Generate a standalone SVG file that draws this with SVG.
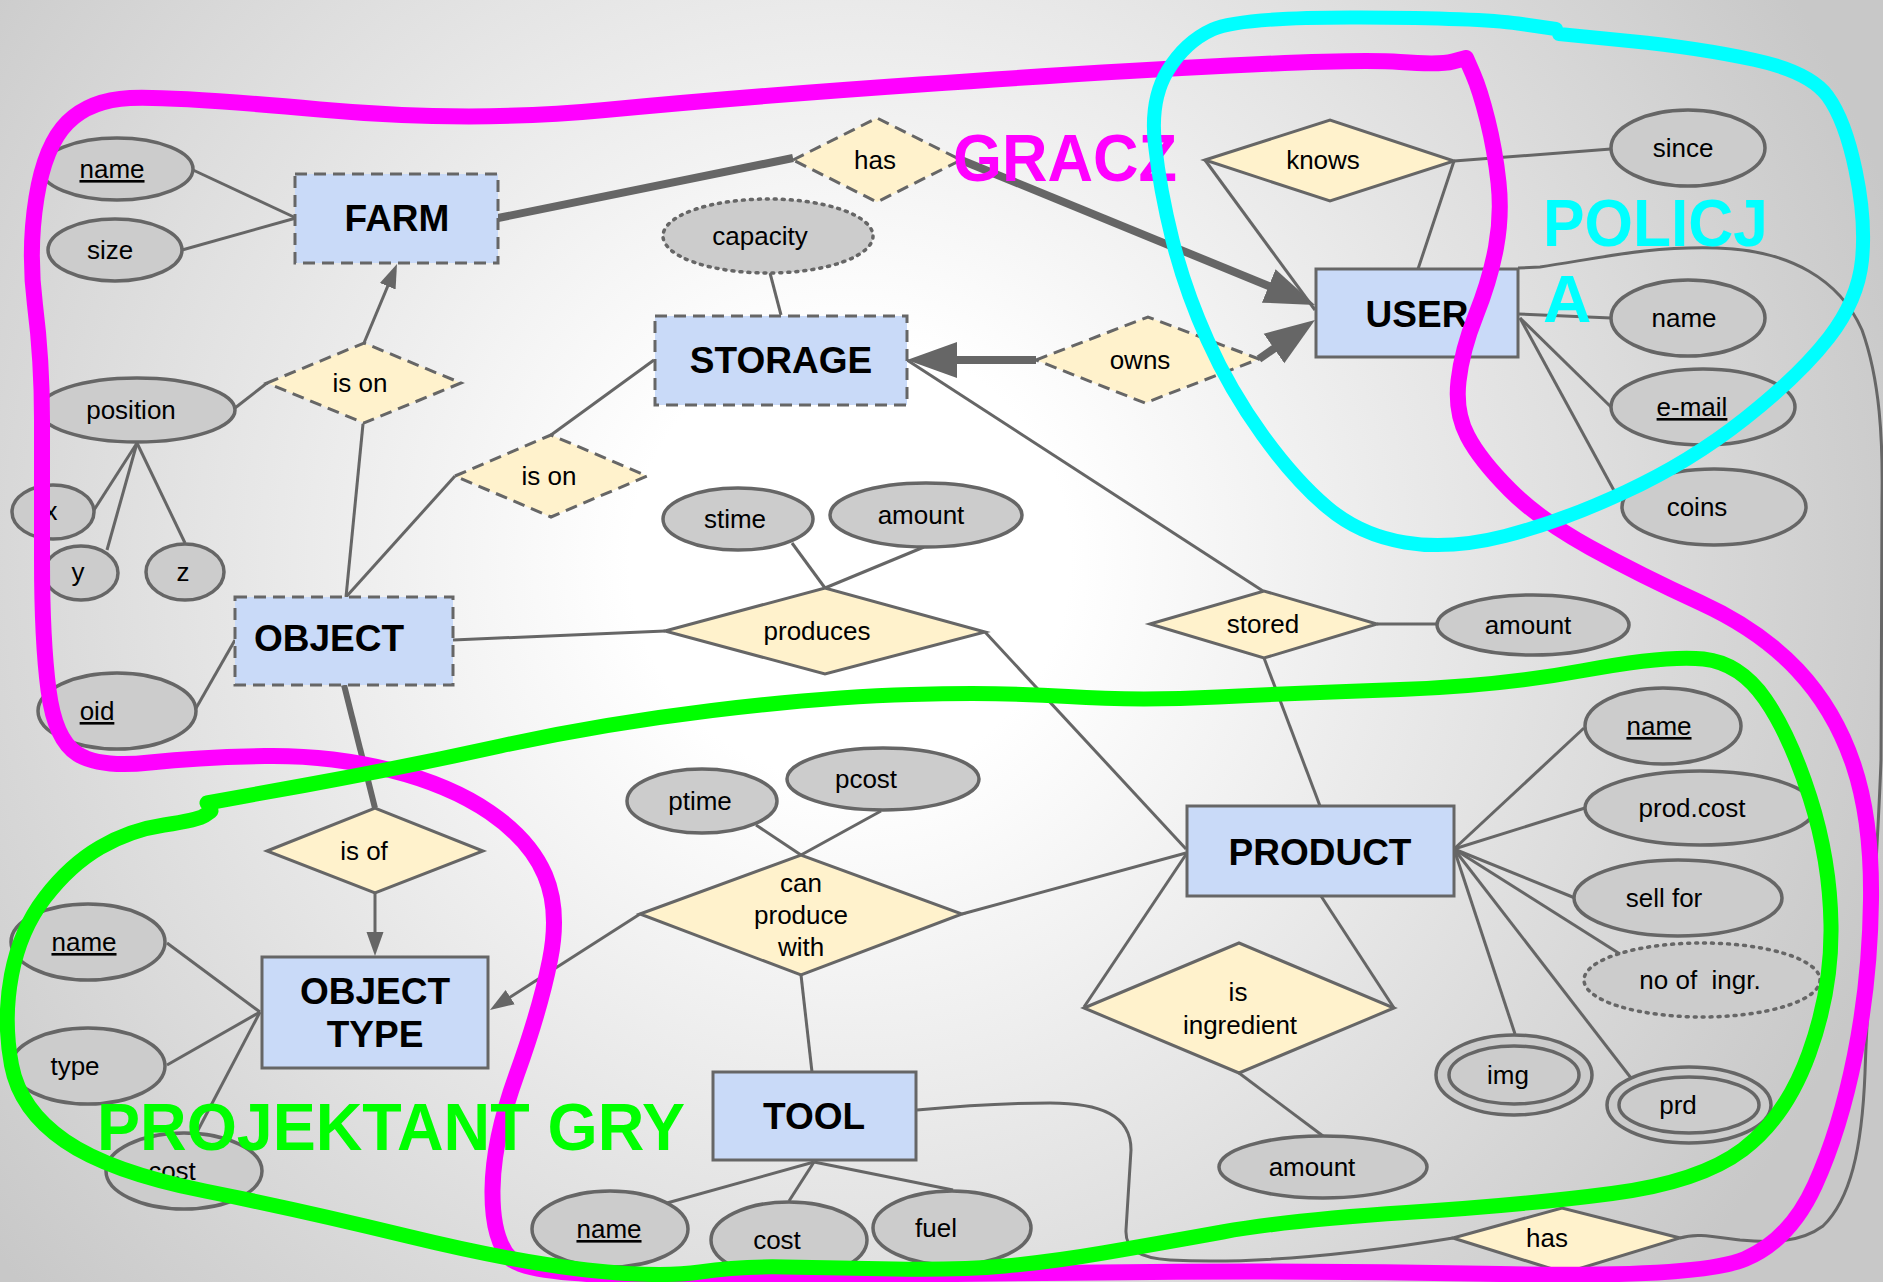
<svg xmlns="http://www.w3.org/2000/svg" width="1883" height="1282" viewBox="0 0 1883 1282">
  <defs>
    <radialGradient id="bg" gradientUnits="userSpaceOnUse" cx="850" cy="560" r="1100">
      <stop offset="0" stop-color="#ffffff"/>
      <stop offset="0.2" stop-color="#ffffff"/>
      <stop offset="1" stop-color="#c8c8c8"/>
    </radialGradient>
    <marker id="bigArrow" markerUnits="userSpaceOnUse" viewBox="0 0 52 40" markerWidth="52" markerHeight="40" refX="30" refY="20" orient="auto">
      <path d="M0,2 L50,20 L0,38 z" fill="#666666"/>
    </marker>
    <marker id="smallArrow" markerUnits="userSpaceOnUse" viewBox="0 0 26 20" markerWidth="26" markerHeight="20" refX="16" refY="10" orient="auto">
      <path d="M0,1.5 L24,10 L0,18.5 z" fill="#666666"/>
    </marker>
    <style>
      .ent { fill: #c9daf8; stroke: #666666; stroke-width: 3; }
      .rel { fill: #fff2cc; stroke: #666666; stroke-width: 3; }
      .att { fill: #cccccc; stroke: #666666; stroke-width: 3.5; }
      .dash { stroke-dasharray: 12 7; }
      .dot { stroke-dasharray: 2 6; stroke-linecap: round; }
      .ln { stroke: #666666; stroke-width: 3; fill: none; }
      .thk { stroke: #666666; stroke-width: 8; fill: none; }
      .et { font-family: "Liberation Sans", Arial, sans-serif; font-weight: bold; font-size: 37px; text-anchor: middle; fill: #000000; }
      .t { font-family: "Liberation Sans", Arial, sans-serif; font-size: 26px; text-anchor: middle; fill: #000000; }
      .u { text-decoration: underline; }
      .loop { fill: none; stroke-linejoin: round; stroke-linecap: round; }
      .big { font-family: "Liberation Sans", Arial, sans-serif; font-weight: bold; font-size: 67px; }
    </style>
  </defs>

  <rect width="1883" height="1282" fill="url(#bg)"/>

  <!-- connectors -->
  <g id="connectors">
    <path class="ln" d="M193,170 L296,218"/>
    <path class="ln" d="M182,250 L296,218"/>
    <path class="thk" d="M498,218 L793,158"/>
    <path class="thk" d="M961,160 L1296.5,297.4" marker-end="url(#bigArrow)"/>
    <path class="ln" d="M770,273 L781,315"/>
    <path class="thk" d="M1036,360 L927,360" marker-end="url(#bigArrow)"/>
    <path class="thk" d="M1259,359 L1298.6,331.4" marker-end="url(#bigArrow)"/>
    <path class="ln" d="M1205,160 L1315,310"/>
    <path class="ln" d="M1454,161 L1418,269"/>
    <path class="ln" d="M1454,161 L1611,149"/>
    <path class="ln" d="M1518,314 L1611,318"/>
    <path class="ln" d="M1520,318 L1611,407"/>
    <path class="ln" d="M1520,318 L1617,496"/>
    <path class="ln" d="M1518,268 L1540,267 C1600,258 1650,246 1717,248 C1790,250 1840,280 1862,330 C1880,380 1883,440 1882,500 L1881,760 C1878,850 1868,980 1865,1073 C1862,1150 1850,1200 1823,1226 C1800,1243 1770,1243 1740,1240 C1710,1236 1695,1233 1680,1238"/>
    <path class="ln" d="M917,1110 C960,1106 1000,1103 1050,1103 C1100,1103 1131,1115 1131,1150 L1126,1230 C1125,1250 1140,1258 1170,1260 C1250,1264 1350,1255 1453,1238"/>
    <path class="ln" d="M654,360 L551,435"/>
    <path class="ln" d="M346,597 L455,476"/>
    <path class="ln" d="M346,597 L363,424"/>
    <path class="ln" d="M364,343 L393.9,271.4" marker-end="url(#smallArrow)"/>
    <path class="ln" d="M267,383 L235,408"/>
    <path class="ln" d="M137,443 L94,510"/>
    <path class="ln" d="M137,443 L107,550"/>
    <path class="ln" d="M137,443 L185,543"/>
    <path class="ln" d="M195,710 L235,640"/>
    <path class="ln" d="M453,640 L665,631"/>
    <path class="ln" d="M792,543 L825,588"/>
    <path class="ln" d="M924,547 L825,588"/>
    <path class="ln" d="M985,632 L1186,849"/>
    <path class="ln" d="M907,360 L1263,591"/>
    <path class="ln" d="M1377,624 L1437,624"/>
    <path class="ln" d="M1264,658 L1320,806"/>
    <path class="ln" d="M344,685 L375,808" style="stroke-width:6"/>
    <path class="ln" d="M375,893 L375,948" marker-end="url(#smallArrow)"/>
    <path class="ln" d="M260,1012 L167,943"/>
    <path class="ln" d="M260,1012 L167,1065"/>
    <path class="ln" d="M260,1012 L196,1134"/>
    <path class="ln" d="M640,914 L496.7,1005.7" marker-end="url(#smallArrow)"/>
    <path class="ln" d="M962,914 L1186,853"/>
    <path class="ln" d="M756,825 L801,855"/>
    <path class="ln" d="M881,811 L801,855"/>
    <path class="ln" d="M801,975 L812,1072"/>
    <path class="ln" d="M814,1162 L667,1203"/>
    <path class="ln" d="M814,1162 L789,1201"/>
    <path class="ln" d="M814,1162 L953,1190"/>
    <path class="ln" d="M1454,849 L1584,728"/>
    <path class="ln" d="M1454,849 L1585,808"/>
    <path class="ln" d="M1454,849 L1575,898"/>
    <path class="ln" d="M1454,849 L1620,954"/>
    <path class="ln" d="M1454,849 L1515,1034"/>
    <path class="ln" d="M1454,849 L1631,1078"/>
    <path class="ln" d="M1321,896 L1394,1008"/>
    <path class="ln" d="M1187,853 L1084,1007"/>
    <path class="ln" d="M1239,1073 L1323,1136"/>
  </g>

  <!-- entities -->
  <g id="farm">
    <rect class="ent dash" x="295" y="174" width="203" height="89"/>
    <text class="et" x="397" y="231">FARM</text>
  </g>
  <g id="storage">
    <rect class="ent dash" x="655" y="316" width="252" height="89"/>
    <text class="et" x="781" y="373">STORAGE</text>
  </g>
  <g id="user">
    <rect class="ent" x="1316" y="269" width="202" height="88"/>
    <text class="et" x="1417" y="327">USER</text>
  </g>
  <g id="object">
    <rect class="ent dash" x="235" y="597" width="218" height="88"/>
    <text class="et" x="254" y="651" style="text-anchor:start">OBJECT</text>
  </g>
  <g id="product">
    <rect class="ent" x="1187" y="806" width="267" height="90"/>
    <text class="et" x="1320" y="865">PRODUCT</text>
  </g>
  <g id="object-type">
    <rect class="ent" x="262" y="957" width="226" height="111"/>
    <text class="et" x="375" y="1004">OBJECT</text>
    <text class="et" x="375" y="1047">TYPE</text>
  </g>
  <g id="tool">
    <rect class="ent" x="713" y="1072" width="203" height="88"/>
    <text class="et" x="814" y="1129">TOOL</text>
  </g>

  <!-- relationships -->
  <g id="has-farm">
    <polygon class="rel dash" points="793,160 877,118 961,160 877,202"/>
    <text class="t" x="875" y="169">has</text>
  </g>
  <g id="knows">
    <polygon class="rel" points="1205,160 1330,120 1454,161 1330,201"/>
    <text class="t" x="1323" y="169">knows</text>
  </g>
  <g id="is-on-farm">
    <polygon class="rel dash" points="267,383 364,343 461,383 364,423"/>
    <text class="t" x="360" y="392">is on</text>
  </g>
  <g id="is-on-storage">
    <polygon class="rel dash" points="455,476 551,435 647,476 551,517"/>
    <text class="t" x="549" y="485">is on</text>
  </g>
  <g id="owns">
    <polygon class="rel dash" points="1036,360 1148,317 1259,359 1145,403"/>
    <text class="t" x="1140" y="369">owns</text>
  </g>
  <g id="produces">
    <polygon class="rel" points="665,631 825,588 985,632 825,674"/>
    <text class="t" x="817" y="640">produces</text>
  </g>
  <g id="stored">
    <polygon class="rel" points="1150,624 1264,591 1377,624 1264,658"/>
    <text class="t" x="1263" y="633">stored</text>
  </g>
  <g id="is-of">
    <polygon class="rel" points="267,851 375,808 483,851 375,893"/>
    <text class="t" x="364" y="860">is of</text>
  </g>
  <g id="can-produce-with">
    <polygon class="rel" points="640,914 801,855 962,914 801,975"/>
    <text class="t" x="801" y="892">can</text>
    <text class="t" x="801" y="924">produce</text>
    <text class="t" x="801" y="956">with</text>
  </g>
  <g id="is-ingredient">
    <polygon class="rel" points="1084,1008 1239,943 1394,1008 1239,1073"/>
    <text class="t" x="1238" y="1001">is</text>
    <text class="t" x="1240" y="1034">ingredient</text>
  </g>
  <g id="has-tool">
    <polygon class="rel" points="1453,1238 1562,1208 1680,1238 1565,1273"/>
    <text class="t" x="1547" y="1247">has</text>
  </g>

  <!-- attributes -->
  <g id="farm-name">
    <ellipse class="att" cx="117" cy="169" rx="76" ry="31"/>
    <text class="t u" x="112" y="178">name</text>
  </g>
  <g id="farm-size">
    <ellipse class="att" cx="115" cy="250" rx="67" ry="31"/>
    <text class="t" x="110" y="259">size</text>
  </g>
  <g id="storage-capacity">
    <ellipse class="att dot" cx="768" cy="236" rx="105" ry="37"/>
    <text class="t" x="760" y="245">capacity</text>
  </g>
  <g id="object-position">
    <ellipse class="att" cx="137" cy="410" rx="98" ry="32"/>
    <text class="t" x="131" y="419">position</text>
  </g>
  <g id="position-x">
    <ellipse class="att" cx="53" cy="512" rx="41" ry="27"/>
    <text class="t" x="51" y="520">x</text>
  </g>
  <g id="position-y">
    <ellipse class="att" cx="81" cy="573" rx="37" ry="27"/>
    <text class="t" x="78" y="581">y</text>
  </g>
  <g id="position-z">
    <ellipse class="att" cx="185" cy="572" rx="39" ry="28"/>
    <text class="t" x="183" y="581">z</text>
  </g>
  <g id="object-oid">
    <ellipse class="att" cx="117" cy="711" rx="79" ry="38"/>
    <text class="t u" x="97" y="720">oid</text>
  </g>
  <g id="produces-stime">
    <ellipse class="att" cx="738" cy="519" rx="75" ry="31"/>
    <text class="t" x="735" y="528">stime</text>
  </g>
  <g id="produces-amount">
    <ellipse class="att" cx="926" cy="515" rx="96" ry="32"/>
    <text class="t" x="921" y="524">amount</text>
  </g>
  <g id="knows-since">
    <ellipse class="att" cx="1688" cy="148" rx="77" ry="38"/>
    <text class="t" x="1683" y="157">since</text>
  </g>
  <g id="user-name">
    <ellipse class="att" cx="1688" cy="318" rx="77" ry="38"/>
    <text class="t" x="1684" y="327">name</text>
  </g>
  <g id="user-email">
    <ellipse class="att" cx="1703" cy="407" rx="92" ry="38"/>
    <text class="t u" x="1692" y="416">e-mail</text>
  </g>
  <g id="user-coins">
    <ellipse class="att" cx="1714" cy="507" rx="92" ry="38"/>
    <text class="t" x="1697" y="516">coins</text>
  </g>
  <g id="stored-amount">
    <ellipse class="att" cx="1533" cy="625" rx="96" ry="30"/>
    <text class="t" x="1528" y="634">amount</text>
  </g>
  <g id="product-name">
    <ellipse class="att" cx="1663" cy="726" rx="78" ry="38"/>
    <text class="t u" x="1659" y="735">name</text>
  </g>
  <g id="product-cost">
    <ellipse class="att" cx="1700" cy="808" rx="115" ry="37"/>
    <text class="t" x="1692" y="817">prod.cost</text>
  </g>
  <g id="product-sell">
    <ellipse class="att" cx="1678" cy="898" rx="104" ry="38"/>
    <text class="t" x="1664" y="907">sell for</text>
  </g>
  <g id="product-ingr">
    <ellipse class="att dot" cx="1702" cy="980" rx="118" ry="37"/>
    <text class="t" x="1700" y="989" style="white-space:pre">no of  ingr.</text>
  </g>
  <g id="product-img">
    <ellipse class="att" cx="1514" cy="1075" rx="78" ry="40"/>
    <ellipse class="att" cx="1514" cy="1075" rx="65" ry="29"/>
    <text class="t" x="1508" y="1084">img</text>
  </g>
  <g id="product-prd">
    <ellipse class="att" cx="1689" cy="1105" rx="82" ry="38"/>
    <ellipse class="att" cx="1689" cy="1105" rx="70" ry="28"/>
    <text class="t" x="1678" y="1114">prd</text>
  </g>
  <g id="ingredient-amount">
    <ellipse class="att" cx="1323" cy="1167" rx="104" ry="31"/>
    <text class="t" x="1312" y="1176">amount</text>
  </g>
  <g id="cpw-ptime">
    <ellipse class="att" cx="702" cy="801" rx="75" ry="32"/>
    <text class="t" x="700" y="810">ptime</text>
  </g>
  <g id="cpw-pcost">
    <ellipse class="att" cx="883" cy="779" rx="96" ry="31"/>
    <text class="t" x="866" y="788">pcost</text>
  </g>
  <g id="type-name">
    <ellipse class="att" cx="88" cy="942" rx="77" ry="38"/>
    <text class="t u" x="84" y="951">name</text>
  </g>
  <g id="type-type">
    <ellipse class="att" cx="88" cy="1066" rx="77" ry="38"/>
    <text class="t" x="75" y="1075">type</text>
  </g>
  <g id="type-cost">
    <ellipse class="att" cx="184" cy="1171" rx="78" ry="38"/>
    <text class="t" x="172" y="1180">cost</text>
  </g>
  <g id="tool-name">
    <ellipse class="att" cx="610" cy="1229" rx="78" ry="38"/>
    <text class="t u" x="609" y="1238">name</text>
  </g>
  <g id="tool-cost">
    <ellipse class="att" cx="789" cy="1240" rx="78" ry="38"/>
    <text class="t" x="777" y="1249">cost</text>
  </g>
  <g id="tool-fuel">
    <ellipse class="att" cx="952" cy="1228" rx="79" ry="37"/>
    <text class="t" x="936" y="1237">fuel</text>
  </g>

  <!-- hand-drawn role outlines -->
  <g id="role-gracz">
    <path class="loop" stroke="#ff00ff" stroke-width="16" d="M1466,58 L1473,74 Q1480,90 1487.5,120 Q1495,150 1498.5,182.5 Q1502,215 1496,247.5 Q1490,280 1476,315 Q1462,350 1458.5,381 Q1455,412 1467.5,436 Q1480,460 1510,490 Q1540,520 1590,547.5 Q1640,575 1700,602.5 Q1760,630 1797.5,670 Q1835,710 1853.5,765 Q1872,820 1871,900 Q1870,980 1855,1055 Q1840,1130 1815,1185 Q1790,1240 1745,1259 Q1700,1278 1500,1274 Q1300,1270 1100,1272.5 Q900,1275 715,1276.5 Q530,1278 511,1259 Q492,1240 492.5,1190 Q493,1140 516.5,1075 Q540,1010 550,960 Q560,910 545,875 Q530,840 490,812.5 Q450,785 390,770 Q330,755 265,756 Q200,757 150,762.5 Q100,768 77.5,754 Q55,740 48.5,690 Q42,640 42,560 Q42,480 42,420 Q42,360 35,305 Q28,250 36.5,197.5 Q45,145 67.5,122.5 Q90,100 130,98 Q170,96 320,109.5 Q470,123 605,110 Q740,97 920,84.5 Q1100,72 1230,65.5 Q1360,59 1400,62 Q1440,65 1453,61.5 L1466,58"/>
    <text class="big" x="953" y="181" fill="#ff00ff" textLength="224" lengthAdjust="spacingAndGlyphs">GRACZ</text>
  </g>
  <g id="role-policja">
    <path class="loop" stroke="#00ffff" stroke-width="14" d="M1559,34 L1629.5,41 Q1700,48 1755,60 Q1810,72 1827.5,96 Q1845,120 1855.5,170 Q1866,220 1862,260 Q1858,300 1829,337.5 Q1800,375 1745,418.5 Q1690,462 1625,492 Q1560,522 1505,536 Q1450,550 1405,542.5 Q1360,535 1327.5,507.5 Q1295,480 1262.5,435 Q1230,390 1207.5,340 Q1185,290 1172.5,240 Q1160,190 1155,145 Q1150,100 1167.5,71 Q1185,42 1212.5,29.5 Q1240,17 1360,17.5 Q1480,18 1518,23.5 L1556,29"/>
    <text class="big" x="1543" y="246" fill="#00ffff" textLength="225" lengthAdjust="spacingAndGlyphs">POLICJ</text>
    <text class="big" x="1543" y="322" fill="#00ffff">A</text>
  </g>
  <g id="role-projektant">
    <path class="loop" stroke="#00ff00" stroke-width="15" d="M207,803 L303.5,785.5 Q400,768 500.5,746 Q601,724 712,710.5 Q823,697 911.5,694.5 Q1000,692 1068,696.5 Q1136,701 1218,697 Q1300,693 1400,689.5 Q1500,686 1583.5,670.5 Q1667,655 1703.5,659 Q1740,663 1765,699 Q1790,735 1810,797.5 Q1830,860 1831,925 Q1832,990 1809,1053.5 Q1786,1117 1743,1149.5 Q1700,1182 1612,1193.5 Q1524,1205 1406.5,1212.5 Q1289,1220 1222.5,1232 Q1156,1244 1103,1253 Q1050,1262 1005,1266 Q960,1270 895,1269 Q830,1268 785,1267 Q740,1266 700,1272 Q660,1278 587,1270 Q514,1262 407,1236 Q300,1210 205,1191 Q110,1172 65,1141 Q20,1110 11.5,1065 Q3,1020 11.5,975 Q20,930 45,897.5 Q70,865 100,847.5 Q130,830 164,825 Q198,820 204.5,815.5 L211,811"/>
    <text class="big" x="97" y="1150" fill="#00ff00" textLength="588" lengthAdjust="spacingAndGlyphs">PROJEKTANT GRY</text>
  </g>
</svg>
